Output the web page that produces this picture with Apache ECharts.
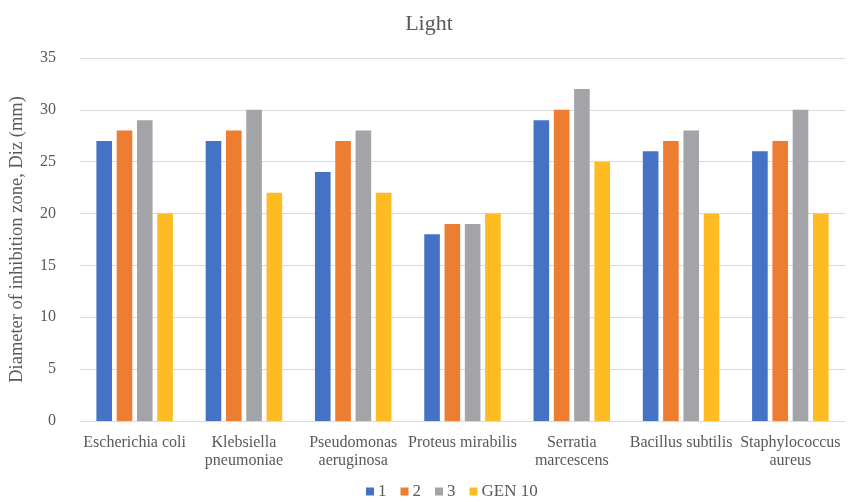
<!DOCTYPE html>
<html>
<head>
<meta charset="utf-8">
<script src="https://cdn.jsdelivr.net/npm/echarts@6/dist/echarts.min.js"></script>
<style>
  html, body { margin: 0; padding: 0; background: #fff; }
  #chart { width: 858px; height: 502px; }
</style>
</head>
<body>
<div id="chart"></div>
<script>
// Bacterial strains tested
const categories = [
  'Escherichia coli',
  'Klebsiella\npneumoniae',
  'Pseudomonas\naeruginosa',
  'Proteus mirabilis',
  'Serratia\nmarcescens',
  'Bacillus subtilis',
  'Staphylococcus\naureus'
];

// Inhibition zone diameters (mm) per sample
const seriesNames = ['1', '2', '3', 'GEN 10'];
const values1 = [27, 27, 24, 18, 29, 26, 26];
const values2 = [28, 28, 27, 19, 30, 27, 27];
const values3 = [29, 30, 28, 19, 32, 28, 30];
const valuesGen = [20, 22, 22, 20, 25, 20, 20];

const yTicks = { min: 0, max: 35, interval: 5 };

const colors = ['#4472C4', '#ED7D31', '#A2A4A7', '#FEBB22'];
const font = '"Liberation Serif", "DejaVu Serif", serif';
const textColor = '#595959';

const chart = echarts.init(document.getElementById('chart'));

const allValues = [values1, values2, values3, valuesGen];

chart.setOption({
  animation: false,
  color: colors,
  title: {
    text: 'Light',
    left: 'center',
    top: 8,
    textStyle: { fontFamily: font, fontSize: 22, fontWeight: 'normal', color: textColor }
  },
  legend: {
    bottom: -3,
    left: 361,
    itemWidth: 8,
    itemHeight: 8,
    itemGap: 14,
    icon: 'rect',
    textStyle: { fontFamily: font, fontSize: 17, color: textColor, padding: [0, 0, 0, -1] },
    data: seriesNames
  },
  grid: { left: 80, right: 13, top: 58, bottom: 81 },
  xAxis: {
    type: 'category',
    data: categories,
    axisLine: { lineStyle: { color: '#D9D9D9' } },
    axisTick: { show: false },
    axisLabel: {
      fontFamily: font, fontSize: 16, color: textColor,
      interval: 0, lineHeight: 18, margin: 13
    }
  },
  yAxis: {
    type: 'value',
    min: yTicks.min,
    max: yTicks.max,
    interval: yTicks.interval,
    name: 'Diameter of inhibition zone, Diz (mm)',
    nameLocation: 'middle',
    nameGap: 53,
    nameTextStyle: { fontFamily: font, fontSize: 18.5, color: textColor },
    axisLine: { show: false },
    axisTick: { show: false },
    splitLine: { lineStyle: { color: '#D9D9D9' } },
    axisLabel: { fontFamily: font, fontSize: 16, color: textColor, margin: 24 }
  },
  series: seriesNames.map((name, i) => ({
    name: name,
    type: 'bar',
    data: allValues[i],
    barGap: '30%',
    barCategoryGap: '30%'
  }))
});
</script>
</body>
</html>
